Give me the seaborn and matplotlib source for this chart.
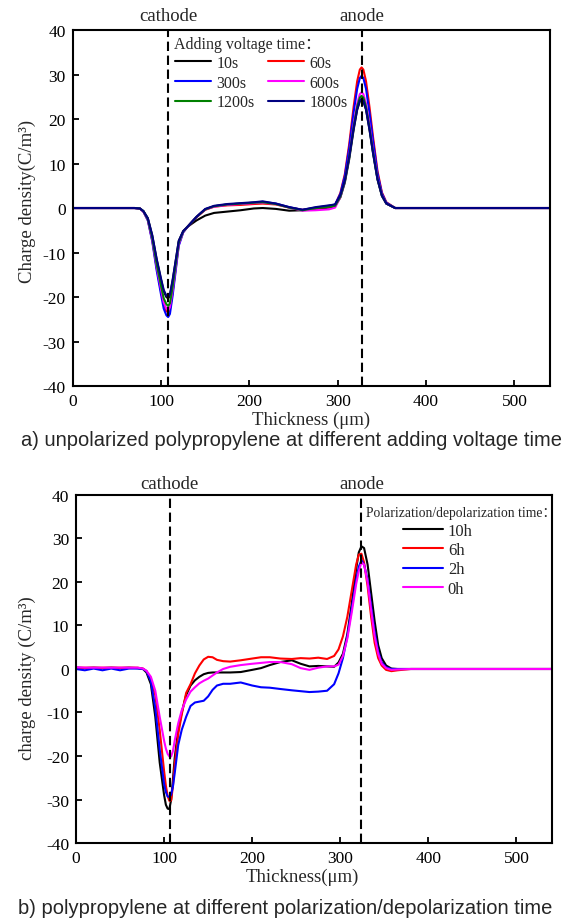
import numpy as np
import pandas as pd
import matplotlib
matplotlib.use("Agg")
import matplotlib.pyplot as plt
import matplotlib.transforms as mtransforms
import seaborn as sns

sns.set_theme(style="ticks")
plt.rcParams['font.family'] = ['Liberation Serif', 'Noto Sans CJK SC']
plt.rcParams['axes.unicode_minus'] = False

# ---- panel a) data: unpolarized PP, different adding voltage time ----
x_a = [0, 20, 40, 60, 70, 76, 80, 85, 90, 95, 100, 103, 106, 108, 110, 113, 116, 120, 125, 130,
       140, 150, 160, 175, 190, 205, 215, 230, 245, 260, 275, 290, 297, 303, 308, 313,
       318, 322, 325, 327, 329, 332, 336, 340, 345, 350, 355, 365, 400, 450, 500, 540]
a_10s = [0, 0, 0, 0, 0, -0.1, -0.7, -2.3, -6.2, -11.6, -16.2, -18.7, -20.0, -20.3, -19.7, -16.5, -12.6,
         -7.4, -5.2, -4.2, -2.8, -1.7, -1.1, -0.8, -0.5, -0.1, 0, -0.2, -0.6, -0.5, -0.3, 0.1, 0.4,
         2.4, 5.7, 11, 17.6, 22.1, 24.0, 24.4, 24.0, 22.1, 17.5, 12.3, 6.4, 2.7, 1.0, 0, 0, 0, 0, 0]
a_60s = [0, 0, 0, 0, 0, -0.1, -0.8, -2.7, -7.2, -13.4, -18.7, -21.7, -23.1, -23.5, -22.8, -19.0, -14.4,
         -8.2, -5.4, -4.2, -2.1, -0.4, 0.3, 0.6, 0.7, 0.9, 1.0, 0.8, 0.1, -0.4, 0, 0.3, 0.7,
         3.4, 7.6, 14.4, 22.8, 28.5, 31.1, 31.6, 31.1, 28.5, 22.6, 15.9, 8.3, 3.5, 1.3, 0, 0, 0, 0, 0]
a_300s = [0, 0, 0, 0, 0, -0.1, -0.8, -2.8, -7.5, -14.0, -19.5, -22.6, -24.1, -24.5, -23.8, -19.8, -15.0,
          -8.5, -5.5, -4.2, -2.0, -0.3, 0.4, 0.8, 1.0, 1.2, 1.4, 1.0, 0.2, -0.4, 0.1, 0.5, 0.8,
          3.2, 7.2, 13.6, 21.5, 26.8, 29.2, 29.7, 29.2, 26.8, 21.3, 15.0, 7.8, 3.3, 1.2, 0, 0, 0, 0, 0]
a_600s = [0, 0, 0, 0, 0, -0.1, -0.8, -2.6, -7.0, -13.1, -18.3, -21.2, -22.6, -23.0, -22.3, -18.6, -14.1,
          -8.1, -5.4, -4.2, -2.0, -0.3, 0.3, 0.7, 0.9, 1.1, 1.2, 0.9, 0.1, -0.6, -0.5, -0.3, 0.1,
          2.5, 6.0, 11.8, 18.8, 23.5, 25.6, 26.0, 25.6, 23.5, 18.6, 13.0, 6.8, 2.9, 1.0, 0, 0, 0, 0, 0]
a_1200s = [0, 0, 0, 0, 0, -0.1, -0.7, -2.5, -6.7, -12.6, -17.5, -20.3, -21.6, -22.0, -21.4, -17.8, -13.5,
           -7.8, -5.3, -4.2, -2.0, -0.3, 0.4, 0.8, 1.0, 1.2, 1.3, 0.9, 0.1, -0.5, 0, 0.3, 0.5,
           2.6, 6.0, 11.5, 18.3, 22.8, 24.8, 25.2, 24.8, 22.8, 18.0, 12.6, 6.6, 2.8, 1.0, 0, 0, 0, 0, 0]
a_1800s = [0, 0, 0, 0, 0, -0.1, -0.7, -2.3, -6.1, -11.4, -15.9, -18.4, -19.7, -20.0, -19.4, -16.2, -12.5,
           -7.4, -5.2, -4.2, -2.0, -0.2, 0.5, 0.9, 1.1, 1.3, 1.5, 1.0, 0.2, -0.4, 0.2, 0.6, 0.8,
           2.9, 6.2, 11.5, 17.9, 22.2, 24.1, 24.5, 24.1, 22.2, 17.6, 12.3, 6.5, 2.8, 1.0, 0, 0, 0, 0, 0]
labels_a = ["10s", "60s", "300s", "600s", "1200s", "1800s"]
colors_a = ["#000000", "#ff0000", "#0000ff", "#ff00ff", "#008000", "#000080"]

# ---- panel b) data: PP at different polarization/depolarization time ----
x_b = [0, 10, 20, 30, 40, 50, 60, 70, 76, 80, 85, 90, 95, 100, 102, 104, 106, 108, 110, 112, 116, 120,
       125, 130, 135, 140, 145, 150, 155, 160, 167, 175, 187, 200, 210, 220, 232, 245, 255,
       265, 275, 285, 293, 298, 303, 308, 313, 318, 321, 324, 327, 331, 335, 339, 343, 347,
       352, 358, 365, 380, 420, 460, 500, 540]
b_10h = [0.3, 0.2, 0.3, 0.2, 0.3, 0.2, 0.3, 0.2, 0, -0.8, -3.5, -11, -21.5, -29, -31.2, -32.1, -32.2, -30,
         -25.5, -20.5, -14, -10, -6, -3.8, -2.6, -1.8, -1.2, -0.9, -0.8, -0.8, -0.8, -0.8, -0.7, -0.2,
         0.2, 0.9, 1.6, 2.0, 1.2, 0.6, 0.7, 0.6, 0.5, 1.5, 3.5, 8, 15, 23, 26.8, 28.2, 27.8, 24, 17.5,
         11, 5.5, 2.5, 0.8, 0.1, 0, 0, 0, 0, 0, 0]
b_6h = [0.3, 0.3, 0.3, 0.3, 0.3, 0.3, 0.3, 0.3, 0.1, -0.5, -2.5, -6, -14, -23.5, -26.8, -29.2, -30.3, -30.2,
        -27, -22, -15, -10.5, -5.5, -3.5, -1, 0.8, 2.2, 2.8, 2.7, 2.1, 1.8, 1.7, 2.0, 2.4, 2.7, 2.7, 2.4,
        2.3, 2.5, 2.4, 2.6, 2.3, 3.0, 4.5, 7.5, 12, 18, 24, 26.3, 26.5, 24.5, 19, 12, 6, 2.5, 0.8, -0.2,
        -0.5, -0.3, 0, 0, 0, 0, 0]
b_2h = [0, -0.3, 0.1, -0.3, 0.1, -0.3, 0.1, 0.1, 0, -0.5, -2.8, -9, -18.5, -26.5, -28.3, -29.3, -29.4, -28.9,
        -27, -24, -17.5, -14, -11, -8.5, -7.7, -7.5, -7.3, -6.3, -4.8, -3.8, -3.4, -3.4, -3.1, -3.8, -4.2,
        -4.3, -4.6, -4.9, -5.1, -5.3, -5.2, -5.0, -3.5, -1.0, 2.5, 7.5, 14, 20.5, 23.5, 25, 24, 20.5,
        14.5, 8.5, 4, 1.5, 0.4, 0, 0, 0, 0, 0, 0, 0]
b_0h = [0.4, 0.3, 0.3, 0.3, 0.3, 0.3, 0.3, 0.3, 0.1, -0.4, -1.8, -5, -11, -16.5, -18.3, -19.5, -20.1, -20.1,
        -18.9, -16.5, -12.5, -9.5, -7, -5.2, -4.2, -3.3, -2.7, -2.2, -1.5, -0.8, 0, 0.5, 0.9, 1.2, 1.4,
        1.6, 1.6, 1.1, 0.2, -0.2, 0.3, 0.6, 0.6, 1.0, 3, 7, 13, 19.5, 22.5, 24.5, 24, 20, 13.5, 7.5, 3.5,
        1.2, 0.2, -0.2, -0.1, 0, 0, 0, 0, 0]
labels_b = ["10h", "6h", "2h", "0h"]
colors_b = ["#000000", "#ff0000", "#0000ff", "#ff00ff"]


def long_form(x, series, labels):
    frames = [pd.DataFrame({"x": x, "y": s, "time": lab}) for s, lab in zip(series, labels)]
    return pd.concat(frames, ignore_index=True)


df_a = long_form(x_a, [a_10s, a_60s, a_300s, a_600s, a_1200s, a_1800s], labels_a)
df_b = long_form(x_b, [b_10h, b_6h, b_2h, b_0h], labels_b)

fig = plt.figure(figsize=(5.75, 9.2), dpi=100)
ax1 = fig.add_axes([0.1265, 0.5793, 0.8296, 0.387])
ax2 = fig.add_axes([0.1322, 0.0826, 0.8273, 0.3783])

sns.lineplot(data=df_a, x="x", y="y", hue="time", hue_order=labels_a,
             palette=dict(zip(labels_a, colors_a)), estimator=None, sort=False,
             lw=1.5, ax=ax1)
sns.lineplot(data=df_b, x="x", y="y", hue="time", hue_order=labels_b,
             palette=dict(zip(labels_b, colors_b)), estimator=None, sort=False,
             lw=1.5, ax=ax2)


def style_axis(ax):
    ax.set_xlim(0, 540)
    ax.set_ylim(-40, 40)
    ax.set_xticks([0, 100, 200, 300, 400, 500])
    ax.set_yticks(range(-40, 41, 10))
    for sp in ax.spines.values():
        sp.set_visible(True)
        sp.set_color("black")
        sp.set_linewidth(1.5)
    ax.tick_params(axis="both", direction="in", length=4, width=1.3,
                   top=False, right=False, labelsize=12.5, colors="black")
    ax.tick_params(axis="x", pad=5)
    ax.tick_params(axis="y", pad=5)
    ax.grid(False)


style_axis(ax1)
style_axis(ax2)

# electrode marks
for ax, xc, xa, ty in [(ax1, 108, 327, 1.042), (ax2, 106.5, 324, 1.032)]:
    trans = mtransforms.blended_transform_factory(ax.transData, ax.transAxes)
    ax.axvline(xc, color="black", lw=1.5, ls=(0, (4.5, 2.2)))
    ax.axvline(xa, color="black", lw=1.5, ls=(0, (4.5, 2.2)))
    ax.text(xc, ty, "cathode", transform=trans, ha="center", va="center", fontsize=13.5)
    ax.text(xa, ty, "anode", transform=trans, ha="center", va="center", fontsize=13.5)

# axis labels
ax1.set_xlabel("Thickness (μm)", fontsize=13.5)
ax1.xaxis.set_label_coords(0.5, -0.093)
ax1.xaxis.label.set_verticalalignment("center")
ax1.set_ylabel("Charge density(C/m³)", fontsize=13.5)
ax1.yaxis.set_label_coords(-0.096, 0.52)
ax1.yaxis.label.set_verticalalignment("center")

ax2.set_xlabel("Thickness(μm)", fontsize=13.5)
ax2.xaxis.set_label_coords(0.475, -0.097)
ax2.xaxis.label.set_verticalalignment("center")
ax2.set_ylabel("charge density (C/m³)", fontsize=13.5)
ax2.yaxis.set_label_coords(-0.103, 0.477)
ax2.yaxis.label.set_verticalalignment("center")

# legends (titles drawn as separate texts)
h1, l1 = ax1.get_legend_handles_labels()
order = [0, 2, 4, 1, 3, 5]
leg1 = ax1.legend([h1[i] for i in order], [l1[i] for i in order], ncol=2,
                  fontsize=11.5, loc="upper left", bbox_to_anchor=(0.197, 0.952),
                  frameon=False, borderpad=0, handlelength=2.3, handletextpad=0.3,
                  columnspacing=0.83, labelspacing=0.22)
for ln in leg1.get_lines():
    ln.set_linewidth(1.5)
ax1.text(0.212, 0.961, "Adding voltage time：", transform=ax1.transAxes,
         ha="left", va="center", fontsize=11.5)

h2, l2 = ax2.get_legend_handles_labels()
leg2 = ax2.legend(h2, l2, fontsize=12, loc="upper left", bbox_to_anchor=(0.6695, 0.944),
                  frameon=False, borderpad=0, handlelength=2.4, handletextpad=0.3,
                  labelspacing=0.2)
for ln in leg2.get_lines():
    ln.set_linewidth(1.5)
ax2.text(0.609, 0.951, "Polarization/depolarization time：", transform=ax2.transAxes,
         ha="left", va="center", fontsize=9.8)

# captions
cap_font = ['Liberation Sans', 'DejaVu Sans']
fig.text(0.507, 0.521, "a) unpolarized polypropylene at different adding voltage time",
         ha="center", va="center", fontsize=14.5, family=cap_font)
fig.text(0.496, 0.013, "b) polypropylene at different polarization/depolarization time",
         ha="center", va="center", fontsize=14.5, family=cap_font)

fig.savefig("out.png", dpi=100)
